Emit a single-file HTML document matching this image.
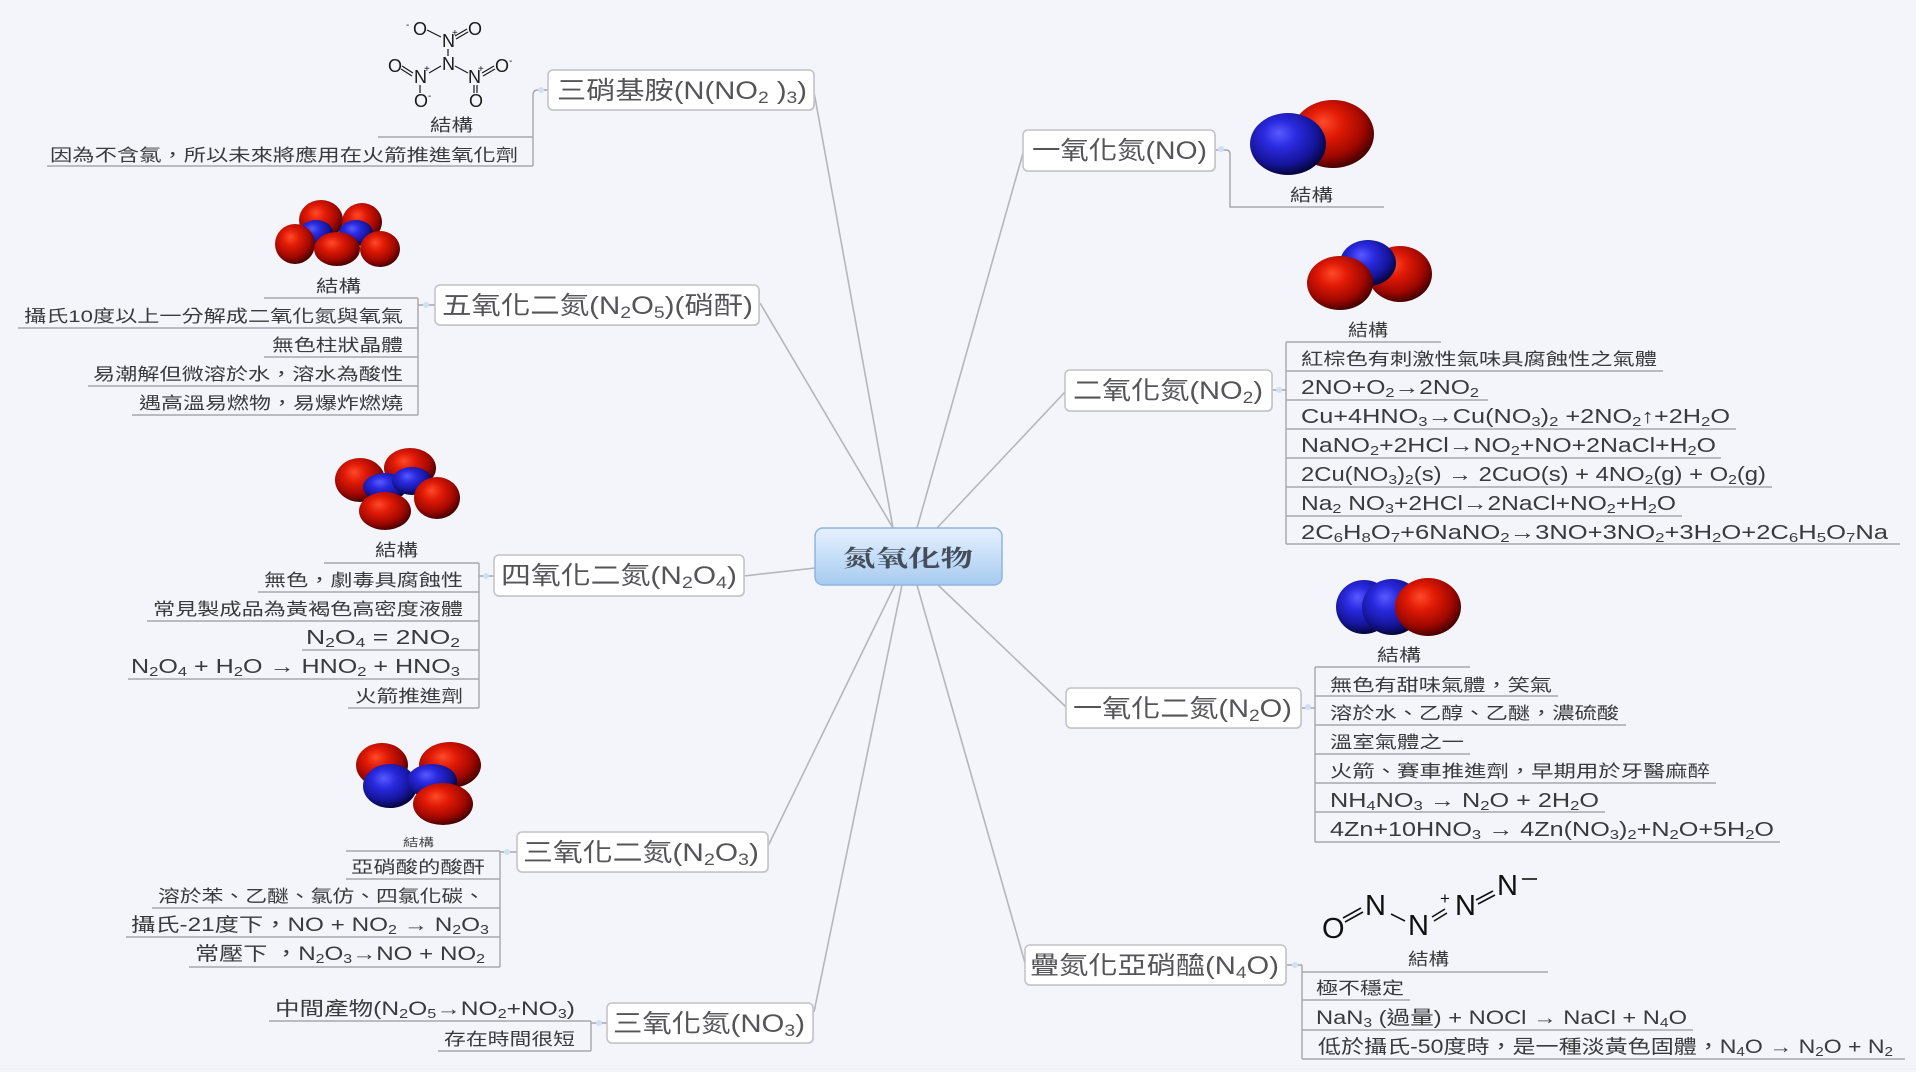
<!DOCTYPE html>
<html><head><meta charset="utf-8">
<style>
html,body{margin:0;padding:0;background:#f4f5fa;}
svg{display:block}
text{font-family:"Liberation Sans","Noto Sans CJK TC",sans-serif;}
.m{font-size:25px;fill:#555558;}
.c{font-size:17px;fill:#3a3a3c;}
.f{font-size:20px;fill:#3a3a3c;}
.x{font-size:19px;fill:#3a3a3c;}
.s{font-size:0.66em;baseline-shift:-0.22em;}
.ln{stroke:#b6b6ba;stroke-width:1.6;fill:none}
.ul{stroke:#a6a6ac;stroke-width:1.4;fill:none}
.bx{fill:#fff;stroke:#c2c2c6;stroke-width:1.5}
.sh{fill:#dcdde3}
.dot{fill:#cfe0f5}
.at{font-size:18px;fill:#1a1a1a}
.at2{font-size:29px;fill:#111}
.sm{font-size:10px;fill:#1a1a1a}
.bd{stroke:#1a1a1a;stroke-width:1.2}
.bd2{stroke:#111;stroke-width:1.6}
</style></head><body>
<svg width="1916" height="1080" viewBox="0 0 1916 1080" xmlns="http://www.w3.org/2000/svg">
<defs>
<radialGradient id="r" cx="0.42" cy="0.38" r="0.62" fx="0.38" fy="0.32">
<stop offset="0" stop-color="#ff4a2a"/><stop offset="0.35" stop-color="#e01a05"/><stop offset="0.75" stop-color="#a00800"/><stop offset="1" stop-color="#4a0000"/>
</radialGradient>
<radialGradient id="b" cx="0.42" cy="0.38" r="0.62" fx="0.38" fy="0.32">
<stop offset="0" stop-color="#5a5aff"/><stop offset="0.35" stop-color="#2a2ae0"/><stop offset="0.75" stop-color="#15159a"/><stop offset="1" stop-color="#050540"/>
</radialGradient>
<linearGradient id="cg" x1="0" y1="0" x2="0" y2="1">
<stop offset="0" stop-color="#e6f1ff"/><stop offset="1" stop-color="#a7cbf1"/>
</linearGradient>
</defs>
<rect width="1916" height="1080" fill="#f4f5fa"/>
<line x1="0" y1="1066" x2="1916" y2="1066" stroke="#eceef6" stroke-width="1"/>
<line x1="0" y1="1069" x2="1916" y2="1069" stroke="#e8eaf3" stroke-width="1"/>
<rect y="1072" width="1916" height="8" fill="#ffffff"/>

<!-- main connectors -->
<path class="ln" d="M814 92 L893 528"/>
<path class="ln" d="M760 303 L893 528"/>
<path class="ln" d="M744 576 L815 568"/>
<path class="ln" d="M768 846 L895 585"/>
<path class="ln" d="M814 1012 L902 585"/>
<path class="ln" d="M1023 153 L917 528"/>
<path class="ln" d="M1065 392 L937 528"/>
<path class="ln" d="M938 585 L1066 707"/>
<path class="ln" d="M917 585 L1025 963"/>

<!-- center -->
<rect x="815" y="528" width="187" height="57" rx="8" fill="url(#cg)" stroke="#8db6e0" stroke-width="1.5"/>
<text x="843" y="566" textLength="130" lengthAdjust="spacingAndGlyphs" style="font-family:'Noto Serif CJK SC',serif;font-size:23px;font-weight:bold;fill:#434e5a">氮氧化物</text>

<!-- elbow connectors & underlines LEFT -->
<path class="ul" d="M548 90 H538 Q533 90 533 95 V166"/>
<path class="ul" d="M378 137 H533 M47 166 H533"/>
<circle class="dot" cx="541" cy="90" r="3"/>

<path class="ul" d="M435 305 H418 M418 298 V415"/>
<path class="ul" d="M264 298 H418 M18 328 H418 M264 357 H418 M88 386 H418 M132 415 H418"/>
<circle class="dot" cx="426" cy="305" r="3"/>

<path class="ul" d="M494 576 H479 M479 563 V708"/>
<path class="ul" d="M324 563 H479 M258 592 H479 M147 621 H479 M302 650 H479 M128 679 H479 M348 708 H479"/>
<circle class="dot" cx="486" cy="576" r="3"/>

<path class="ul" d="M517 852 H500 M500 851 V967"/>
<path class="ul" d="M346 851 H500 M346 879 H500 M152 908 H500 M126 937 H500 M189 967 H500"/>
<circle class="dot" cx="507" cy="852" r="3"/>

<path class="ul" d="M607 1023 H591 M591 1021 V1051"/>
<path class="ul" d="M269 1021 H591 M438 1051 H591"/>
<circle class="dot" cx="599" cy="1023" r="3"/>

<!-- RIGHT -->
<path class="ul" d="M1215 150 H1226 Q1230 150 1230 154 V207 H1384"/>
<circle class="dot" cx="1221" cy="149" r="3"/>

<path class="ul" d="M1272 390 H1286 M1286 342 V544"/>
<path class="ul" d="M1286 342 H1441 M1286 371 H1663 M1286 400 H1488 M1286 429 H1736 M1286 458 H1721 M1286 487 H1772 M1286 516 H1682 M1286 544 H1900"/>
<circle class="dot" cx="1279" cy="390" r="3"/>

<path class="ul" d="M1301 708 H1315 M1315 667 V842"/>
<path class="ul" d="M1315 667 H1470 M1315 696 H1558 M1315 725 H1626 M1315 754 H1470 M1315 783 H1716 M1315 812 H1605 M1315 842 H1780"/>
<circle class="dot" cx="1308" cy="707" r="3"/>

<path class="ul" d="M1286 965 H1302 M1302 965 V1059"/>
<path class="ul" d="M1302 972 H1548 M1302 1000 H1410 M1302 1030 H1693 M1302 1059 H1905"/>
<circle class="dot" cx="1295" cy="965" r="3"/>

<!-- main topic boxes -->
<rect class="sh" x="549" y="71" width="266" height="40" rx="5"/><rect class="bx" x="548" y="70" width="266" height="40" rx="5"/>
<text class="m" x="557" y="99" textLength="250" lengthAdjust="spacingAndGlyphs">三硝基胺(N(NO<tspan class="s">2</tspan> )<tspan class="s">3</tspan>)</text>

<rect class="sh" x="436" y="286" width="324" height="40" rx="5"/><rect class="bx" x="435" y="285" width="324" height="40" rx="5"/>
<text class="m" x="442" y="314" textLength="311" lengthAdjust="spacingAndGlyphs">五氧化二氮(N<tspan class="s">2</tspan>O<tspan class="s">5</tspan>)(硝酐)</text>

<rect class="sh" x="495" y="556" width="250" height="41" rx="5"/><rect class="bx" x="494" y="555" width="250" height="41" rx="5"/>
<text class="m" x="501" y="584" textLength="236" lengthAdjust="spacingAndGlyphs">四氧化二氮(N<tspan class="s">2</tspan>O<tspan class="s">4</tspan>)</text>

<rect class="sh" x="518" y="833" width="251" height="40" rx="5"/><rect class="bx" x="517" y="832" width="251" height="40" rx="5"/>
<text class="m" x="523" y="861" textLength="236" lengthAdjust="spacingAndGlyphs">三氧化二氮(N<tspan class="s">2</tspan>O<tspan class="s">3</tspan>)</text>

<rect class="sh" x="608" y="1004" width="206" height="40" rx="5"/><rect class="bx" x="607" y="1003" width="206" height="40" rx="5"/>
<text class="m" x="613" y="1032" textLength="192" lengthAdjust="spacingAndGlyphs">三氧化氮(NO<tspan class="s">3</tspan>)</text>

<rect class="sh" x="1024" y="131" width="192" height="41" rx="5"/><rect class="bx" x="1023" y="130" width="192" height="41" rx="5"/>
<text class="m" x="1032" y="159" textLength="175" lengthAdjust="spacingAndGlyphs">一氧化氮(NO)</text>

<rect class="sh" x="1066" y="371" width="207" height="41" rx="5"/><rect class="bx" x="1065" y="370" width="207" height="41" rx="5"/>
<text class="m" x="1073" y="399" textLength="190" lengthAdjust="spacingAndGlyphs">二氧化氮(NO<tspan class="s">2</tspan>)</text>

<rect class="sh" x="1067" y="689" width="235" height="40" rx="5"/><rect class="bx" x="1066" y="688" width="235" height="40" rx="5"/>
<text class="m" x="1073" y="717" textLength="219" lengthAdjust="spacingAndGlyphs">一氧化二氮(N<tspan class="s">2</tspan>O)</text>

<rect class="sh" x="1026" y="946" width="261" height="40" rx="5"/><rect class="bx" x="1025" y="945" width="261" height="40" rx="5"/>
<text class="m" x="1030" y="974" textLength="249" lengthAdjust="spacingAndGlyphs">疊氮化亞硝醯(N<tspan class="s">4</tspan>O)</text>

<!-- LEFT children -->
<text class="c" x="430" y="131" textLength="43" lengthAdjust="spacingAndGlyphs">結構</text>
<text class="c" x="50" y="161" textLength="468" lengthAdjust="spacingAndGlyphs">因為不含氯，所以未來將應用在火箭推進氧化劑</text>

<text class="c" x="316" y="292" textLength="45" lengthAdjust="spacingAndGlyphs">結構</text>
<text class="c" x="24" y="322" textLength="379" lengthAdjust="spacingAndGlyphs">攝氏10度以上一分解成二氧化氮與氧氣</text>
<text class="c" x="272" y="351" textLength="131" lengthAdjust="spacingAndGlyphs">無色柱狀晶體</text>
<text class="c" x="93" y="380" textLength="310" lengthAdjust="spacingAndGlyphs">易潮解但微溶於水，溶水為酸性</text>
<text class="c" x="139" y="409" textLength="264" lengthAdjust="spacingAndGlyphs">遇高溫易燃物，易爆炸燃燒</text>

<text class="c" x="375" y="556" textLength="43" lengthAdjust="spacingAndGlyphs">結構</text>
<text class="c" x="264" y="586" textLength="199" lengthAdjust="spacingAndGlyphs">無色，劇毒具腐蝕性</text>
<text class="c" x="153" y="615" textLength="310" lengthAdjust="spacingAndGlyphs">常見製成品為黃褐色高密度液體</text>
<text class="f" x="306" y="644" textLength="154" lengthAdjust="spacingAndGlyphs">N<tspan class="s">2</tspan>O<tspan class="s">4</tspan>  =  2NO<tspan class="s">2</tspan></text>
<text class="f" x="131" y="673" textLength="329" lengthAdjust="spacingAndGlyphs">N<tspan class="s">2</tspan>O<tspan class="s">4</tspan>  + H<tspan class="s">2</tspan>O → HNO<tspan class="s">2</tspan> + HNO<tspan class="s">3</tspan></text>
<text class="c" x="355" y="702" textLength="108" lengthAdjust="spacingAndGlyphs">火箭推進劑</text>

<text x="403" y="846" textLength="31" lengthAdjust="spacingAndGlyphs" style="font-size:11px;fill:#444">結構</text>
<text class="c" x="351" y="873" textLength="134" lengthAdjust="spacingAndGlyphs">亞硝酸的酸酐</text>
<text class="c" x="158" y="902" textLength="327" lengthAdjust="spacingAndGlyphs">溶於苯、乙醚、氯仿、四氯化碳、</text>
<text class="x" x="131" y="931" textLength="358" lengthAdjust="spacingAndGlyphs">攝氏-21度下，NO + NO<tspan class="s">2</tspan>  → N<tspan class="s">2</tspan>O<tspan class="s">3</tspan></text>
<text class="x" x="195" y="960" textLength="290" lengthAdjust="spacingAndGlyphs">常壓下 ，N<tspan class="s">2</tspan>O<tspan class="s">3</tspan>→NO + NO<tspan class="s">2</tspan></text>

<text class="x" x="275" y="1015" textLength="300" lengthAdjust="spacingAndGlyphs">中間產物(N<tspan class="s">2</tspan>O<tspan class="s">5</tspan>→NO<tspan class="s">2</tspan>+NO<tspan class="s">3</tspan>)</text>
<text class="c" x="444" y="1045" textLength="131" lengthAdjust="spacingAndGlyphs">存在時間很短</text>

<!-- RIGHT children -->
<text class="c" x="1290" y="201" textLength="43" lengthAdjust="spacingAndGlyphs">結構</text>

<text class="c" x="1348" y="336" textLength="40" lengthAdjust="spacingAndGlyphs">結構</text>
<text class="c" x="1301" y="365" textLength="356" lengthAdjust="spacingAndGlyphs">紅棕色有刺激性氣味具腐蝕性之氣體</text>
<text class="f" x="1301" y="394" textLength="178" lengthAdjust="spacingAndGlyphs">2NO+O<tspan class="s">2</tspan>→2NO<tspan class="s">2</tspan></text>
<text class="f" x="1301" y="423" textLength="429" lengthAdjust="spacingAndGlyphs">Cu+4HNO<tspan class="s">3</tspan>→Cu(NO<tspan class="s">3</tspan>)<tspan class="s">2</tspan> +2NO<tspan class="s">2</tspan>↑+2H<tspan class="s">2</tspan>O</text>
<text class="f" x="1301" y="452" textLength="415" lengthAdjust="spacingAndGlyphs">NaNO<tspan class="s">2</tspan>+2HCl→NO<tspan class="s">2</tspan>+NO+2NaCl+H<tspan class="s">2</tspan>O</text>
<text class="f" x="1301" y="481" textLength="465" lengthAdjust="spacingAndGlyphs">2Cu(NO<tspan class="s">3</tspan>)<tspan class="s">2</tspan>(s) → 2CuO(s) + 4NO<tspan class="s">2</tspan>(g) + O<tspan class="s">2</tspan>(g)</text>
<text class="f" x="1301" y="510" textLength="375" lengthAdjust="spacingAndGlyphs">Na<tspan class="s">2</tspan> NO<tspan class="s">3</tspan>+2HCl→2NaCl+NO<tspan class="s">2</tspan>+H<tspan class="s">2</tspan>O</text>
<text class="f" x="1301" y="539" textLength="587" lengthAdjust="spacingAndGlyphs">2C<tspan class="s">6</tspan>H<tspan class="s">8</tspan>O<tspan class="s">7</tspan>+6NaNO<tspan class="s">2</tspan>→3NO+3NO<tspan class="s">2</tspan>+3H<tspan class="s">2</tspan>O+2C<tspan class="s">6</tspan>H<tspan class="s">5</tspan>O<tspan class="s">7</tspan>Na</text>

<text class="c" x="1377" y="661" textLength="44" lengthAdjust="spacingAndGlyphs">結構</text>
<text class="c" x="1330" y="691" textLength="222" lengthAdjust="spacingAndGlyphs">無色有甜味氣體，笑氣</text>
<text class="c" x="1330" y="719" textLength="289" lengthAdjust="spacingAndGlyphs">溶於水、乙醇、乙醚，濃硫酸</text>
<text class="c" x="1330" y="748" textLength="134" lengthAdjust="spacingAndGlyphs">溫室氣體之一</text>
<text class="c" x="1330" y="777" textLength="380" lengthAdjust="spacingAndGlyphs">火箭、賽車推進劑，早期用於牙醫麻醉</text>
<text class="f" x="1330" y="807" textLength="269" lengthAdjust="spacingAndGlyphs">NH<tspan class="s">4</tspan>NO<tspan class="s">3</tspan> → N<tspan class="s">2</tspan>O + 2H<tspan class="s">2</tspan>O</text>
<text class="f" x="1330" y="836" textLength="444" lengthAdjust="spacingAndGlyphs">4Zn+10HNO<tspan class="s">3</tspan> → 4Zn(NO<tspan class="s">3</tspan>)<tspan class="s">2</tspan>+N<tspan class="s">2</tspan>O+5H<tspan class="s">2</tspan>O</text>

<text class="c" x="1408" y="965" textLength="41" lengthAdjust="spacingAndGlyphs">結構</text>
<text class="c" x="1316" y="994" textLength="88" lengthAdjust="spacingAndGlyphs">極不穩定</text>
<text class="x" x="1316" y="1024" textLength="371" lengthAdjust="spacingAndGlyphs">NaN<tspan class="s">3</tspan> (過量) + NOCl → NaCl + N<tspan class="s">4</tspan>O</text>
<text class="x" x="1318" y="1053" textLength="575" lengthAdjust="spacingAndGlyphs">低於攝氏-50度時，是一種淡黃色固體，N<tspan class="s">4</tspan>O → N<tspan class="s">2</tspan>O + N<tspan class="s">2</tspan></text>

<!-- Trinitramide structure -->
<g>
<text class="at" x="413" y="35">O</text><text class="sm" x="406" y="28">-</text>
<text class="at" x="442" y="47">N</text><text class="sm" x="452" y="36">+</text>
<text class="at" x="468" y="35">O</text>
<text class="at" x="442" y="70">N</text>
<text class="at" x="388" y="72">O</text>
<text class="at" x="414" y="83">N</text><text class="sm" x="424" y="72">+</text>
<text class="at" x="468" y="83">N</text><text class="sm" x="478" y="72">+</text>
<text class="at" x="495" y="72">O</text><text class="sm" x="509" y="64">-</text>
<text class="at" x="414" y="107">O</text><text class="sm" x="428" y="99">-</text>
<text class="at" x="469" y="107">O</text>
<line class="bd" x1="427" y1="30" x2="441" y2="37"/>
<line class="bd" x1="455" y1="36" x2="467" y2="29"/><line class="bd" x1="456" y1="39" x2="468" y2="32"/>
<line class="bd" x1="448" y1="49" x2="448" y2="56"/>
<line class="bd" x1="441" y1="66" x2="429" y2="73"/>
<line class="bd" x1="402" y1="66" x2="413" y2="73"/><line class="bd" x1="401" y1="69" x2="412" y2="76"/>
<line class="bd" x1="455" y1="66" x2="468" y2="73"/>
<line class="bd" x1="482" y1="73" x2="494" y2="66"/><line class="bd" x1="483" y1="76" x2="495" y2="69"/>
<line class="bd" x1="420" y1="85" x2="420" y2="93"/>
<line class="bd" x1="474" y1="85" x2="474" y2="93"/><line class="bd" x1="477" y1="85" x2="477" y2="93"/>
</g>

<!-- N4O structure -->
<g>
<text class="at2" x="1322" y="938">O</text>
<text class="at2" x="1365" y="915">N</text>
<text class="at2" x="1408" y="935">N</text>
<text class="at2" x="1455" y="915">N</text><text x="1440" y="904" style="font-size:17px;fill:#111">+</text>
<text class="at2" x="1497" y="895">N</text>
<line class="bd2" x1="1522" y1="879" x2="1537" y2="879"/>
<line class="bd2" x1="1343" y1="918" x2="1361" y2="908"/><line class="bd2" x1="1345" y1="922" x2="1363" y2="912"/>
<line class="bd2" x1="1391" y1="914" x2="1405" y2="921"/>
<line class="bd2" x1="1432" y1="917" x2="1445" y2="909"/><line class="bd2" x1="1434" y1="921" x2="1447" y2="913"/>
<line class="bd2" x1="1476" y1="900" x2="1493" y2="891"/><line class="bd2" x1="1478" y1="904" x2="1495" y2="895"/>
</g>

<!-- Molecules -->
<!-- NO -->
<ellipse cx="1333" cy="134" rx="41" ry="34" fill="url(#r)"/>
<ellipse cx="1288" cy="144" rx="38" ry="31" fill="url(#b)"/>
<!-- NO2 -->
<ellipse cx="1400" cy="274" rx="32" ry="28" fill="url(#r)"/>
<ellipse cx="1368" cy="263" rx="28" ry="23" fill="url(#b)"/>
<ellipse cx="1340" cy="283" rx="33" ry="27" fill="url(#r)"/>
<!-- N2O -->
<ellipse cx="1364" cy="607" rx="28" ry="27" fill="url(#b)"/>
<ellipse cx="1392" cy="607" rx="30" ry="28" fill="url(#b)"/>
<ellipse cx="1428" cy="607" rx="33" ry="29" fill="url(#r)"/>
<!-- N2O5 -->
<ellipse cx="321" cy="220" rx="22" ry="20" fill="url(#r)"/>
<ellipse cx="362" cy="222" rx="20" ry="19" fill="url(#r)"/>
<ellipse cx="316" cy="233" rx="17" ry="13" fill="url(#b)"/>
<ellipse cx="356" cy="233" rx="17" ry="13" fill="url(#b)"/>
<ellipse cx="295" cy="244" rx="20" ry="20" fill="url(#r)"/>
<ellipse cx="380" cy="249" rx="20" ry="18" fill="url(#r)"/>
<ellipse cx="337" cy="249" rx="23" ry="17" fill="url(#r)"/>
<!-- N2O4 -->
<ellipse cx="360" cy="480" rx="25" ry="22" fill="url(#r)"/>
<ellipse cx="410" cy="468" rx="26" ry="20" fill="url(#r)"/>
<ellipse cx="385" cy="487" rx="22" ry="14" fill="url(#b)"/>
<ellipse cx="412" cy="481" rx="20" ry="14" fill="url(#b)"/>
<ellipse cx="437" cy="498" rx="23" ry="21" fill="url(#r)"/>
<ellipse cx="385" cy="511" rx="26" ry="19" fill="url(#r)"/>
<!-- N2O3 -->
<ellipse cx="382" cy="765" rx="26" ry="22" fill="url(#r)"/>
<ellipse cx="450" cy="765" rx="31" ry="23" fill="url(#r)"/>
<ellipse cx="390" cy="786" rx="27" ry="22" fill="url(#b)"/>
<ellipse cx="432" cy="781" rx="25" ry="17" fill="url(#b)"/>
<ellipse cx="443" cy="804" rx="30" ry="21" fill="url(#r)"/>
</svg>
</body></html>
